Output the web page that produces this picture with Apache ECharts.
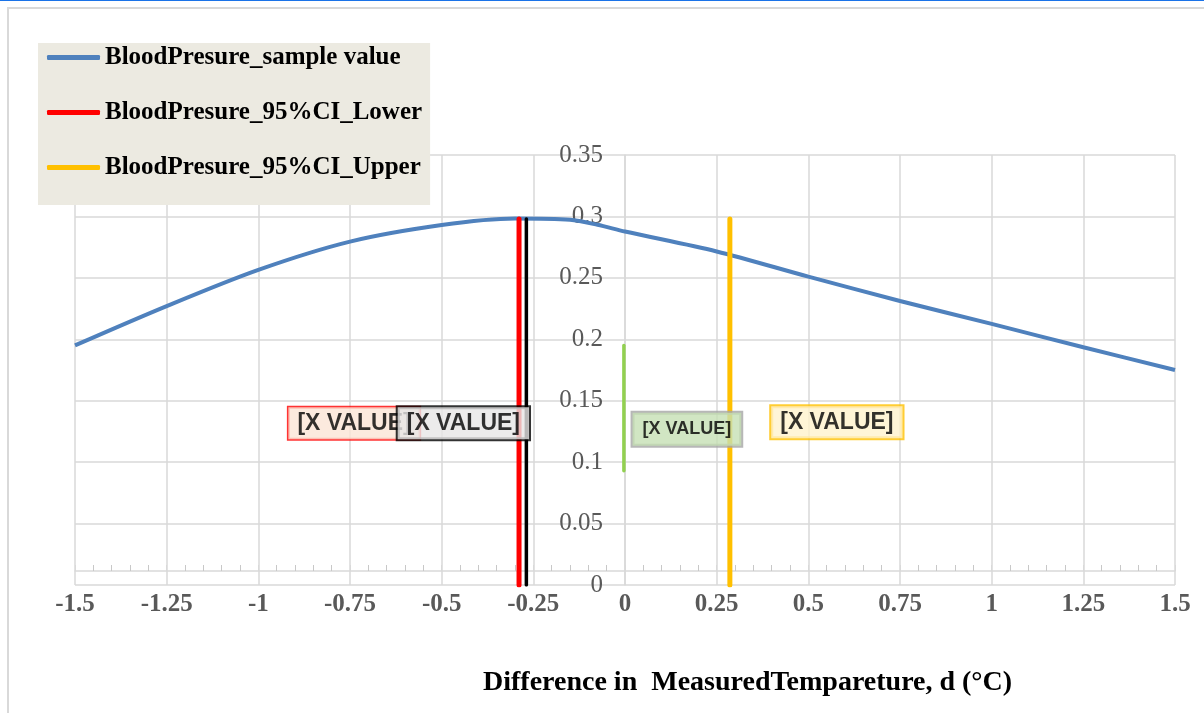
<!DOCTYPE html>
<html>
<head>
<meta charset="utf-8">
<script src="https://cdn.jsdelivr.net/npm/echarts@6/dist/echarts.min.js"></script>
<style>
  html, body { margin: 0; padding: 0; background: #fff; }
  #topline { position: absolute; left: 0; top: 0; width: 1204px; height: 1px; background: #1a73e8; }
  #frame { position: absolute; left: 7px; top: 7px; width: 1204px; height: 713px;
           border-left: 2px solid #d9d9d9; border-top: 2px solid #d9d9d9; pointer-events: none; }
  #chart { position: absolute; left: 0; top: 0; width: 1204px; height: 713px; }
</style>
</head>
<body>
<div id="chart"></div>
<div id="frame"></div>
<div id="topline"></div>
<script>
// sample curve
const xValues = [-1.5, -1.25, -1, -0.75, -0.5, -0.3, -0.15, -0.075, 0, 0.25, 0.5, 0.75, 1, 1.25, 1.5];
const sampleValues = [0.195, 0.227, 0.2565, 0.2795, 0.293, 0.2983, 0.2973, 0.2932, 0.2877, 0.2715, 0.251, 0.2312, 0.2125, 0.1935, 0.175];

// vertical markers
const ciLower = -0.289;
const meanDiff = -0.269;
const ciUpper = 0.286;
const ciTop = 0.298;
const zeroLineX = -0.003;
const zeroLineRange = [0.093, 0.195];
const labelLevel = 0.13;

const xTicks = { min: -1.5, max: 1.5, step: 0.25 };
const yTicks = { min: 0, max: 0.35, step: 0.05 };

const serif = '"Liberation Serif", "DejaVu Serif", serif';
const sans = '"Liberation Sans", Arial, sans-serif';

const chart = echarts.init(document.getElementById('chart'));

const vLine = (name, x, y0, y1, color, width) => ({
  name: name,
  type: 'line',
  data: [[x, y0], [x, y1]],
  showSymbol: false,
  silent: true,
  lineStyle: { color: color, width: width, cap: 'round' },
  itemStyle: { color: color },
  z: 3,
});

const valueLabel = (x, bg, border, borderWidth, offset, font, z) => ({
  type: 'scatter',
  data: [[x, labelLevel]],
  symbolSize: 0,
  silent: true,
  z: z,
  label: {
    show: true,
    position: 'inside',
    offset: offset,
    formatter: '[X VALUE]',
    color: '#000',
    fontFamily: font.family,
    fontSize: font.size,
    fontWeight: 'bold',
    backgroundColor: bg,
    borderColor: border,
    borderWidth: borderWidth,
    padding: font.padding,
  },
});

const boxFont = { family: sans, size: 23, padding: [5, 9, 4, 9] };
const greenFont = { family: sans, size: 18, padding: [8, 10, 7, 10] };

const option = {
  animation: false,
  grid: { left: 75, right: 29, top: 155, bottom: 128 },
  title: {
    text: 'Difference in  MeasuredTempareture, d (°C)',
    left: 483,
    top: 669,
    padding: 0,
    textStyle: { fontFamily: serif, fontSize: 28, fontWeight: 'bold', color: '#000' },
  },
  legend: {
    left: 38,
    top: 43,
    orient: 'vertical',
    backgroundColor: '#ECEAE1',
    padding: [2, 8, 25, 9],
    itemGap: 30,
    itemWidth: 53,
    itemHeight: 5,
    icon: 'roundRect',
    data: ['BloodPresure_sample value', 'BloodPresure_95%CI_Lower', 'BloodPresure_95%CI_Upper'],
    textStyle: { fontFamily: serif, fontSize: 25, fontWeight: 'bold', color: '#000', lineHeight: 24 },
  },
  xAxis: {
    type: 'value',
    min: xTicks.min,
    max: xTicks.max,
    interval: xTicks.step,
    offset: -14,
    axisLine: { show: true, onZero: false, lineStyle: { color: '#d9d9d9', width: 1.5 } },
    axisTick: { show: true, inside: true, length: 6, lineStyle: { color: '#d9d9d9' } },
    minorTick: { show: true, splitNumber: 5, length: 6, lineStyle: { color: '#c8c8c8' } },
    splitLine: { show: true, lineStyle: { color: '#d9d9d9', width: 1.5 } },
    axisLabel: {
      margin: 21,
      fontFamily: serif,
      fontSize: 25,
      fontWeight: 'bold',
      color: '#595959',
      formatter: (v) => String(+v.toFixed(2)),
    },
  },
  yAxis: {
    type: 'value',
    min: yTicks.min,
    max: yTicks.max,
    interval: yTicks.step,
    // axis sits at x = 0 of the horizontal scale
    offset: -550,
    axisLine: { show: true, onZero: false, lineStyle: { color: '#d9d9d9', width: 1.5 } },
    axisTick: { show: false },
    splitLine: { show: true, lineStyle: { color: '#d9d9d9', width: 1.5 } },
    axisLabel: {
      margin: 22,
      fontFamily: serif,
      fontSize: 25,
      color: '#595959',
      formatter: (v) => String(+v.toFixed(2)),
    },
  },
  series: [
    {
      name: 'BloodPresure_sample value',
      type: 'line',
      data: xValues.map((x, i) => [x, sampleValues[i]]),
      smooth: 0.3,
      showSymbol: false,
      lineStyle: { color: '#4F81BD', width: 4 },
      itemStyle: { color: '#4F81BD' },
      z: 2,
    },
    vLine('BloodPresure_95%CI_Lower', ciLower, 0, ciTop, '#FF0000', 5),
    vLine('BloodPresure_mean', meanDiff, 0, ciTop, '#000000', 3.5),
    vLine('BloodPresure_95%CI_Upper', ciUpper, 0, ciTop, '#FFC000', 5),
    vLine('zero', zeroLineX, zeroLineRange[0], zeroLineRange[1], '#92D050', 3.5),
    valueLabel(ciLower, '#FBE5D6', '#FF0000', 1.5, [-165, -2], boxFont, 5),
    valueLabel(meanDiff, '#E7E6E6', '#000000', 2, [-63, -2], boxFont, 6),
    valueLabel(zeroLineX, '#C5E0B4', '#A5A5A5', 2, [63, 4], greenFont, 5),
    valueLabel(ciUpper, '#FFF2CC', '#FFC000', 2, [107, -3], boxFont, 5),
  ],
};

chart.setOption(option);
</script>
</body>
</html>
